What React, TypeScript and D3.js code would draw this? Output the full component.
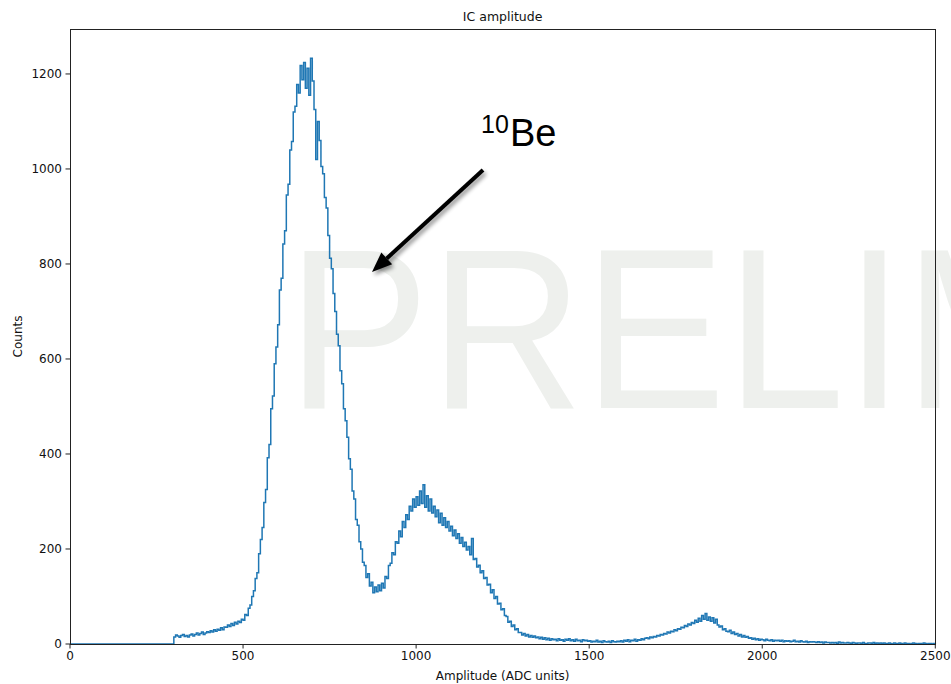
import React from "react";
import * as d3 from "d3";

// Histogram of IC amplitude: counts per 5-unit bin, starting at the 300 threshold
const BIN_START = 300;
const BIN_WIDTH = 5;
const X_MAX = 2500;

const counts: number[] = [
  // 300 - 345
  15, 19, 17, 14, 18, 20, 16, 18, 15, 19,
  // 350 - 395
  21, 17, 20, 23, 19, 22, 25, 20, 23, 26,
  // 400 - 445
  24, 28, 25, 30, 27, 31, 29, 34, 30, 36,
  // 450 - 495
  35, 40, 37, 43, 39, 46, 42, 48, 45, 52,
  // 500 - 545
  50, 62, 60, 75, 82, 100, 112, 138, 150, 190,
  // 550 - 595
  220, 245, 298, 325, 392, 420, 495, 522, 590, 625,
  // 600 - 645
  672, 745, 770, 842, 870, 945, 968, 1040, 1058, 1120,
  // 650 - 695
  1132, 1178, 1160, 1218, 1188, 1224, 1170, 1212, 1155, 1233,
  // 700 - 745
  1185, 1125, 1020, 1100, 1060, 1005, 990, 940, 918, 860,
  // 750 - 795
  812, 790, 738, 700, 652, 628, 575, 548, 495, 470,
  // 800 - 845
  435, 390, 368, 322, 305, 262, 250, 215, 200, 172,
  // 850 - 895
  165, 140, 148, 122, 130, 108, 120, 110, 124, 112,
  // 900 - 945
  128, 118, 142, 138, 165, 170, 192, 188, 215, 212,
  // 950 - 995
  238, 226, 258, 245, 272, 262, 290, 280, 305, 288,
  // 1000 - 1045
  310, 292, 322, 296, 335, 288, 312, 280, 305, 276,
  // 1050 - 1095
  290, 268, 282, 255, 275, 250, 266, 245, 258, 238,
  // 1100 - 1145
  248, 228, 240, 222, 232, 212, 224, 205, 214, 198,
  // 1150 - 1195
  205, 188, 222, 178, 180, 162, 166, 150, 154, 138,
  // 1200 - 1245
  140, 124, 126, 108, 114, 96, 100, 84, 86, 72,
  // 1250 - 1295
  74, 60, 58, 46, 48, 37, 40, 30, 32, 24,
  // 1300 - 1345
  24, 19, 22, 17, 20, 15, 18, 14, 17, 13,
  // 1350 - 1395
  15, 11, 14, 10, 13, 9, 12, 8, 11, 9,
  // 1400 - 1445
  10, 7, 11, 8, 9, 6, 10, 8, 11, 7,
  // 1450 - 1495
  9, 6, 10, 7, 8, 5, 9, 7, 8, 6,
  // 1500 - 1545
  7, 4, 6, 5, 8, 4, 6, 3, 7, 5,
  // 1550 - 1595
  4, 6, 3, 7, 5, 4, 6, 5, 7, 4,
  // 1600 - 1645
  8, 6, 9, 5, 8, 7, 10, 6, 9, 8,
  // 1650 - 1695
  11, 9, 12, 13, 11, 15, 13, 16, 15, 18,
  // 1700 - 1745
  17, 20, 19, 22, 21, 25, 23, 27, 26, 30,
  // 1750 - 1795
  28, 32, 31, 35, 34, 39, 37, 42, 40, 45,
  // 1800 - 1845
  43, 50, 46, 54, 48, 60, 52, 64, 50, 57,
  // 1850 - 1895
  48, 55, 44, 52, 40, 36, 38, 30, 32, 27,
  // 1900 - 1945
  26, 29, 22, 25, 20, 22, 17, 20, 15, 18,
  // 1950 - 1995
  14, 16, 12, 13, 10, 12, 9, 11, 8, 10,
  // 2000 - 2045
  9, 7, 10, 8, 7, 9, 6, 8, 7, 8,
  // 2050 - 2095
  6, 8, 5, 7, 6, 7, 5, 6, 8, 5,
  // 2100 - 2145
  6, 4, 7, 5, 4, 6, 3, 5, 4, 5,
  // 2150 - 2195
  4, 3, 5, 3, 4, 2, 4, 3, 3, 2,
  // 2200 - 2245
  3, 2, 3, 1, 4, 2, 3, 2, 2, 3,
  // 2250 - 2295
  2, 1, 3, 2, 1, 2, 2, 1, 3, 1,
  // 2300 - 2345
  1, 2, 2, 1, 3, 1, 2, 1, 2, 1,
  // 2350 - 2395
  2, 1, 1, 2, 1, 0, 2, 1, 1, 2,
  // 2400 - 2445
  1, 0, 2, 1, 1, 0, 1, 2, 1, 0,
  // 2450 - 2495
  1, 1, 0, 2, 1, 0, 1, 1, 0, 1,
];

const xTicks = [0, 500, 1000, 1500, 2000, 2500];
const yTicks = [0, 200, 400, 600, 800, 1000, 1200];

const TITLE = "IC amplitude";
const X_LABEL = "Amplitude (ADC units)";
const Y_LABEL = "Counts";
const WATERMARK = "PRELIMINARY";

const W = 951;
const H = 684;
const M = { left: 70, right: 935.3, top: 29, bottom: 644 };
const FONT = "'DejaVu Sans', sans-serif";

export default function App() {
  const yMaxData = d3.max(counts) ?? 1;
  const x = d3.scaleLinear().domain([0, X_MAX]).range([M.left, M.right]);
  const y = d3.scaleLinear().domain([0, yMaxData * 1.05]).range([M.bottom, M.top]);

  const pts: [number, number][] = [[0, 0]];
  counts.forEach((c, i) => pts.push([BIN_START + i * BIN_WIDTH, c]));
  pts.push([BIN_START + counts.length * BIN_WIDTH, counts[counts.length - 1]]);
  pts.push([BIN_START + counts.length * BIN_WIDTH, 0]);

  const line = d3
    .line<[number, number]>()
    .x((d) => x(d[0]))
    .y((d) => y(d[1]))
    .curve(d3.curveStepAfter);

  const cx = (M.left + M.right) / 2;
  const cy = (M.top + M.bottom) / 2;

  // annotation arrow geometry
  const ax0 = 483, ay0 = 170, ax1 = 372, ay1 = 272;
  const ang = Math.atan2(ay1 - ay0, ax1 - ax0);
  const headLen = 20, headHalf = 8;
  const bx = ax1 - headLen * Math.cos(ang);
  const by = ay1 - headLen * Math.sin(ang);
  const px = -Math.sin(ang), py = Math.cos(ang);
  const head = `M${ax1},${ay1} L${bx + px * headHalf},${by + py * headHalf} L${bx - px * headHalf},${by - py * headHalf} Z`;

  return (
    <svg
      width={W}
      height={H}
      style={{ position: "absolute", left: 0, top: 0, background: "#fff" }}
    >
      <defs>
        <filter id="shadow" x="-20%" y="-20%" width="140%" height="140%">
          <feGaussianBlur in="SourceAlpha" stdDeviation="2" />
          <feOffset dx="2" dy="3" result="off" />
          <feComponentTransfer>
            <feFuncA type="linear" slope="0.45" />
          </feComponentTransfer>
          <feMerge>
            <feMergeNode />
            <feMergeNode in="SourceGraphic" />
          </feMerge>
        </filter>
      </defs>
      <rect x={0} y={0} width={W} height={H} fill="#fff" />

      {/* watermark */}
      <g transform="translate(287,408) scale(1,1.07)">
        <text
          x={0}
          y={0}
          fontFamily="'Liberation Sans', Arial, sans-serif"
          fontSize={213.5}
          fill="#eef0ed"
        >
          {WATERMARK}
        </text>
      </g>

      {/* histogram outline */}
      <path d={line(pts) ?? ""} fill="none" stroke="#1f77b4" strokeWidth={1.5} />

      {/* spines */}
      <rect
        x={M.left}
        y={M.top}
        width={M.right - M.left}
        height={M.bottom - M.top}
        fill="none"
        stroke="#222"
        strokeWidth={1}
        shapeRendering="crispEdges"
      />

      {/* x axis */}
      {xTicks.map((t) => (
        <g key={`x${t}`}>
          <line x1={x(t)} x2={x(t)} y1={M.bottom} y2={M.bottom + 4.5} stroke="#222" strokeWidth={1} />
          <text x={x(t)} y={M.bottom + 16} textAnchor="middle" fontFamily={FONT} fontSize={12} fill="#111">
            {t}
          </text>
        </g>
      ))}
      {/* y axis */}
      {yTicks.map((t) => (
        <g key={`y${t}`}>
          <line x1={M.left - 4.5} x2={M.left} y1={y(t)} y2={y(t)} stroke="#222" strokeWidth={1} />
          <text x={M.left - 8} y={y(t) + 4.3} textAnchor="end" fontFamily={FONT} fontSize={12} fill="#111">
            {t}
          </text>
        </g>
      ))}

      <text x={cx} y={21} textAnchor="middle" fontFamily={FONT} fontSize={12.5} fill="#111">
        {TITLE}
      </text>
      <text x={cx} y={680} textAnchor="middle" fontFamily={FONT} fontSize={12} fill="#111">
        {X_LABEL}
      </text>
      <text
        transform={`translate(22,${cy}) rotate(-90)`}
        textAnchor="middle"
        fontFamily={FONT}
        fontSize={12}
        fill="#111"
      >
        {Y_LABEL}
      </text>

      {/* annotation */}
      <g filter="url(#shadow)">
        <line x1={ax0} y1={ay0} x2={bx} y2={by} stroke="#000" strokeWidth={4} />
        <path d={head} fill="#000" />
      </g>
      <text fontFamily="'Liberation Sans', Arial, sans-serif" fill="#000">
        <tspan x={481} y={133} fontSize={25}>10</tspan>
        <tspan x={510} y={146} fontSize={38}>Be</tspan>
      </text>
    </svg>
  );
}
